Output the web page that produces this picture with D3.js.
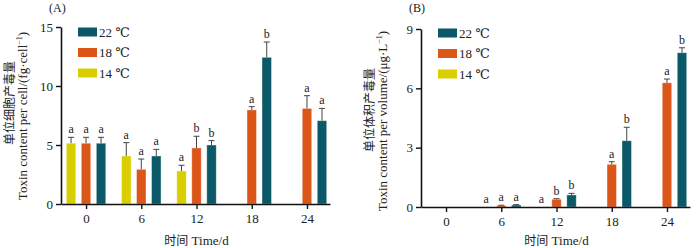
<!DOCTYPE html>
<html>
<head>
<meta charset="utf-8">
<script src="https://cdn.jsdelivr.net/npm/d3@7"></script>
<style>
  body { margin: 0; background: #fff; }
  text { font-family: "Liberation Serif", "DejaVu Serif", serif; }
  .cjk { font-family: "Noto Sans CJK SC", sans-serif; }
</style>
</head>
<body>
<div id="chart"></div>
<script>
const days = [0, 6, 12, 18, 24];
const temps = ["14 ℃", "18 ℃", "22 ℃"];
const legendOrder = ["22 ℃", "18 ℃", "14 ℃"];
const colors = ["#d9cf00", "#dc5519", "#0b5868"];

// (A) toxin per cell
const cell14 = [5.15, 4.07, 2.8, null, null];
const cell18 = [5.15, 2.94, 4.75, 7.97, 8.1];
const cell22 = [5.15, 4.07, 5.0, 12.43, 7.06];
const cell14Sd = [0.5, 1.13, 0.48, null, null];
const cell18Sd = [0.5, 0.87, 0.99, 0.28, 1.08];
const cell22Sd = [0.5, 0.56, 0.37, 1.3, 1.04];
const cell14Sig = ["a", "a", "a", null, null];
const cell18Sig = ["a", "a", "b", "a", "a"];
const cell22Sig = ["a", "a", "b", "b", "a"];

// (B) toxin per volume
const vol14 = [null, 0, 0, null, null];
const vol18 = [null, 0.07, 0.39, 2.16, 6.28];
const vol22 = [null, 0.1, 0.61, 3.35, 7.8];
const vol14Sd = [null, 0, 0, null, null];
const vol18Sd = [null, 0.02, 0.03, 0.13, 0.19];
const vol22Sd = [null, 0.02, 0.08, 0.68, 0.25];
const vol14Sig = [null, "a", "a", null, null];
const vol18Sig = [null, "a", "b", "a", "a"];
const vol22Sig = [null, "a", "b", "b", "b"];

const SIZE = { width: 700, height: 248 };

const svg = d3.select("#chart").append("svg")
  .attr("width", SIZE.width)
  .attr("height", SIZE.height);

function drawPanel(cfg) {
  const g = svg.append("g");
  const x = d3.scaleLinear().domain([-2.72, 26.5]).range([cfg.left, cfg.left + 269]);
  const y = d3.scaleLinear().domain([0, cfg.ymax]).range([cfg.bottom, cfg.top]);
  const x1 = d3.scaleBand().domain(temps).range([-22.5, 22.5]).paddingInner(0.37).paddingOuter(0.185);

  const rows = [];
  cfg.series.forEach((s, si) => {
    days.forEach((d, i) => {
      if (s.vals[i] == null) return;
      rows.push({ day: d, temp: temps[si], color: colors[si], v: s.vals[i], sd: s.sd[i], sig: s.sig[i] });
    });
  });
  const cx = d => x(d.day) + x1(d.temp) + x1.bandwidth() / 2;

  // bars
  g.selectAll("rect.bar").data(rows).join("rect")
    .attr("class", "bar")
    .attr("x", d => x(d.day) + x1(d.temp))
    .attr("y", d => y(d.v))
    .attr("width", x1.bandwidth())
    .attr("height", d => y(0) - y(d.v))
    .attr("fill", d => d.color)
    .attr("stroke", "rgba(255,255,255,0.45)")
    .attr("stroke-width", 0.8);

  // error bars (upper only)
  const eb = g.selectAll("g.err").data(rows.filter(d => d.sd > 0)).join("g").attr("class", "err");
  eb.append("line")
    .attr("x1", cx).attr("x2", cx)
    .attr("y1", d => y(d.v))
    .attr("y2", d => y(d.v + d.sd))
    .attr("stroke", "#444").attr("stroke-width", 1);
  eb.append("line")
    .attr("x1", d => cx(d) - 3)
    .attr("x2", d => cx(d) + 3)
    .attr("y1", d => y(d.v + d.sd))
    .attr("y2", d => y(d.v + d.sd))
    .attr("stroke", "#444").attr("stroke-width", 1);

  // significance letters
  g.selectAll("text.sig").data(rows.filter(d => d.sig)).join("text")
    .attr("class", "sig")
    .attr("x", cx)
    .attr("y", d => y(d.v + (d.sd || 0)) - 4)
    .attr("text-anchor", "middle")
    .attr("font-size", 12)
    .attr("fill", "#222")
    .text(d => d.sig);

  // axes
  const xAxis = g.append("g")
    .attr("transform", `translate(0,${cfg.bottom})`)
    .call(d3.axisBottom(x).tickValues(days).tickSize(5).tickSizeOuter(0).tickPadding(5));
  const yAxis = g.append("g")
    .attr("transform", `translate(${cfg.left},0)`)
    .call(d3.axisLeft(y).tickValues(cfg.yticks).tickSize(5).tickSizeOuter(0).tickPadding(3));
  [xAxis, yAxis].forEach(a => {
    a.select(".domain").attr("stroke", "#111").attr("stroke-width", 1.6);
    a.selectAll(".tick line").attr("stroke", "#111").attr("stroke-width", 1.4);
    a.selectAll(".tick text").attr("font-size", 13).attr("fill", "#222")
      .style("font-family", '"Liberation Serif", serif');
  });

  // legend
  const lg = g.append("g");
  legendOrder.forEach((t, i) => {
    const c = colors[temps.indexOf(t)];
    const yy = cfg.legendY + i * 20.5;
    lg.append("rect").attr("x", cfg.left + 17).attr("y", yy - 4.5)
      .attr("width", 19).attr("height", 9).attr("fill", c);
    lg.append("text").attr("x", cfg.left + 38).attr("y", yy + 4.5)
      .attr("font-size", 13).attr("fill", "#222").text(t);
  });

  // title
  g.append("text").attr("x", cfg.left - 12).attr("y", 12)
    .attr("font-size", 12).attr("fill", "#222").text(cfg.title);

  // axis titles
  g.append("text").attr("x", x(12)).attr("y", 245)
    .attr("text-anchor", "middle").attr("font-size", 13).attr("fill", "#222")
    .html('<tspan class="cjk" font-size="12">时间</tspan> Time/d');

  g.append("text").attr("class", "cjk")
    .attr("transform", `translate(${cfg.labelX},${cfg.cnY}) rotate(-90)`)
    .attr("text-anchor", "middle").attr("font-size", 12).attr("fill", "#222")
    .text(cfg.labelCn);
  g.append("text")
    .attr("transform", `translate(${cfg.labelX + 13},${cfg.enY}) rotate(-90)`)
    .attr("text-anchor", "middle").attr("font-size", 13).attr("fill", "#222")
    .html(cfg.labelEn);
}

drawPanel({
  left: 61, top: 27, bottom: 204, ymax: 15, yticks: [0, 5, 10, 15],
  title: "(A)", legendY: 32,
  labelX: 14, cnY: 103, enY: 116, labelCn: "单位细胞产毒量",
  labelEn: 'Toxin content per cell/(fg·cell<tspan dy="-5" font-size="8">−1</tspan><tspan dy="5">)</tspan>',
  series: [
    { vals: cell14, sd: cell14Sd, sig: cell14Sig },
    { vals: cell18, sd: cell18Sd, sig: cell18Sig },
    { vals: cell22, sd: cell22Sd, sig: cell22Sig }
  ]
});

drawPanel({
  left: 421, top: 29, bottom: 207, ymax: 9, yticks: [0, 3, 6, 9],
  title: "(B)", legendY: 33,
  labelX: 374, cnY: 110, enY: 121, labelCn: "单位体积产毒量",
  labelEn: 'Toxin content per volume/(μg·L<tspan dy="-5" font-size="8">−1</tspan><tspan dy="5">)</tspan>',
  series: [
    { vals: vol14, sd: vol14Sd, sig: vol14Sig },
    { vals: vol18, sd: vol18Sd, sig: vol18Sig },
    { vals: vol22, sd: vol22Sd, sig: vol22Sig }
  ]
});
</script>
</body>
</html>
